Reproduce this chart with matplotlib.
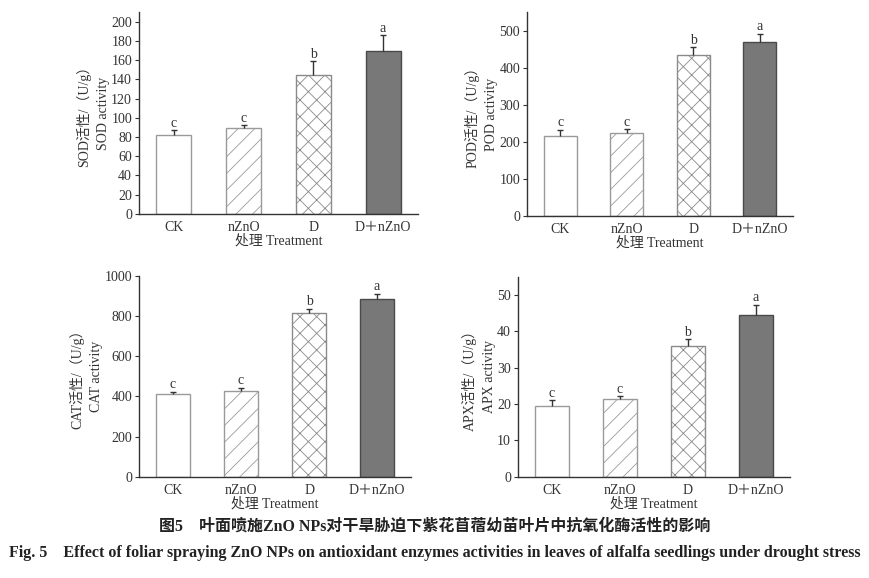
import numpy as np
import matplotlib
matplotlib.use("Agg")
import matplotlib.pyplot as plt

# DATA
treatments = ["CK", "nZnO", "D", "D\uff0bnZnO"]

sod_mean = [82, 89, 145, 170]
sod_err = [5, 3, 14, 16]
sod_letters = ["c", "c", "b", "a"]

pod_mean = [217, 225, 435, 470]
pod_err = [15, 9, 20, 22]
pod_letters = ["c", "c", "b", "a"]

cat_mean = [410, 425, 815, 885]
cat_err = [12, 18, 20, 25]
cat_letters = ["c", "c", "b", "a"]

apx_mean = [19.5, 21.3, 36.1, 44.6]
apx_err = [1.5, 0.9, 1.7, 2.7]
apx_letters = ["c", "c", "b", "a"]

serif = ["Liberation Serif", "Noto Sans CJK SC"]
plt.rcParams["font.family"] = serif
plt.rcParams["hatch.linewidth"] = 0.6
plt.rcParams["hatch.color"] = "#8a8a8a"

fig = plt.figure(figsize=(8.69, 5.78), dpi=100)

styles = [
    dict(facecolor="white", edgecolor="#9a9a9a", hatch=None),
    dict(facecolor="white", edgecolor="#9a9a9a", hatch="//"),
    dict(facecolor="white", edgecolor="#8a8a8a", hatch="xx"),
    dict(facecolor="#787878", edgecolor="#4a4a4a", hatch=None),
]


def panel(rect, means, errs, letters, ymax, yticks, name):
    ax = fig.add_axes(rect)
    x = np.arange(len(treatments))
    for i in range(len(x)):
        ax.bar(x[i], means[i], width=0.5, linewidth=1.0, zorder=2, **styles[i])
    eb = ax.errorbar(x, means, yerr=[[0] * len(x), errs], fmt="none",
                     ecolor="#333333", elinewidth=1.0, capsize=2.5, capthick=1.0, zorder=3)
    # only the upper cap is drawn in the original
    eb[1][0].set_visible(False)
    for i in range(len(x)):
        ax.text(x[i], means[i] + errs[i] + ymax * 0.003, letters[i],
                ha="center", va="bottom", fontsize=10, color="#333333")
    ax.set_xlim(-0.5, 3.5)
    ax.set_ylim(0, ymax)
    ax.set_yticks(yticks)
    ax.set_xticks(x)
    ax.set_xticklabels(treatments, fontsize=10)
    ax.tick_params(axis="y", direction="out", length=3, width=0.8, labelsize=10,
                   colors="#333333", pad=2)
    ax.tick_params(axis="x", direction="in", length=3, width=0.8, colors="#333333", pad=5)
    for s in ["top", "right"]:
        ax.spines[s].set_visible(False)
    for s in ["left", "bottom"]:
        ax.spines[s].set_color("#333333")
        ax.spines[s].set_linewidth(1.0)
    ax.set_xlabel("处理 Treatment", fontsize=10, labelpad=0, color="#333333")
    ax.set_ylabel(name + "活性/（U/g）\n" + name + " activity", fontsize=10,
                  color="#333333", linespacing=1.55, labelpad=1)
    return ax


panel([0.160, 0.630, 0.321, 0.349], sod_mean, sod_err, sod_letters, 210,
      np.arange(0, 201, 20), "SOD")
panel([0.6065, 0.626, 0.306, 0.353], pod_mean, pod_err, pod_letters, 550,
      np.arange(0, 501, 100), "POD")
panel([0.160, 0.175, 0.313, 0.348], cat_mean, cat_err, cat_letters, 1000,
      np.arange(0, 1001, 200), "CAT")
panel([0.596, 0.175, 0.313, 0.346], apx_mean, apx_err, apx_letters, 55,
      np.arange(0, 51, 10), "APX")

fig.text(0.5, 1 - 527 / 578, "图5　叶面喷施ZnO NPs对干旱胁迫下紫花苜蓿幼苗叶片中抗氧化酶活性的影响",
         ha="center", va="center", fontsize=11.5, fontweight="bold", color="#222222")
fig.text(0.5, 1 - 553 / 578,
         "Fig. 5　Effect of foliar spraying ZnO NPs on antioxidant enzymes activities "
         "in leaves of alfalfa seedlings under drought stress",
         ha="center", va="center", fontsize=11.5, fontweight="bold", color="#222222")

fig.savefig("out.png", dpi=100)
